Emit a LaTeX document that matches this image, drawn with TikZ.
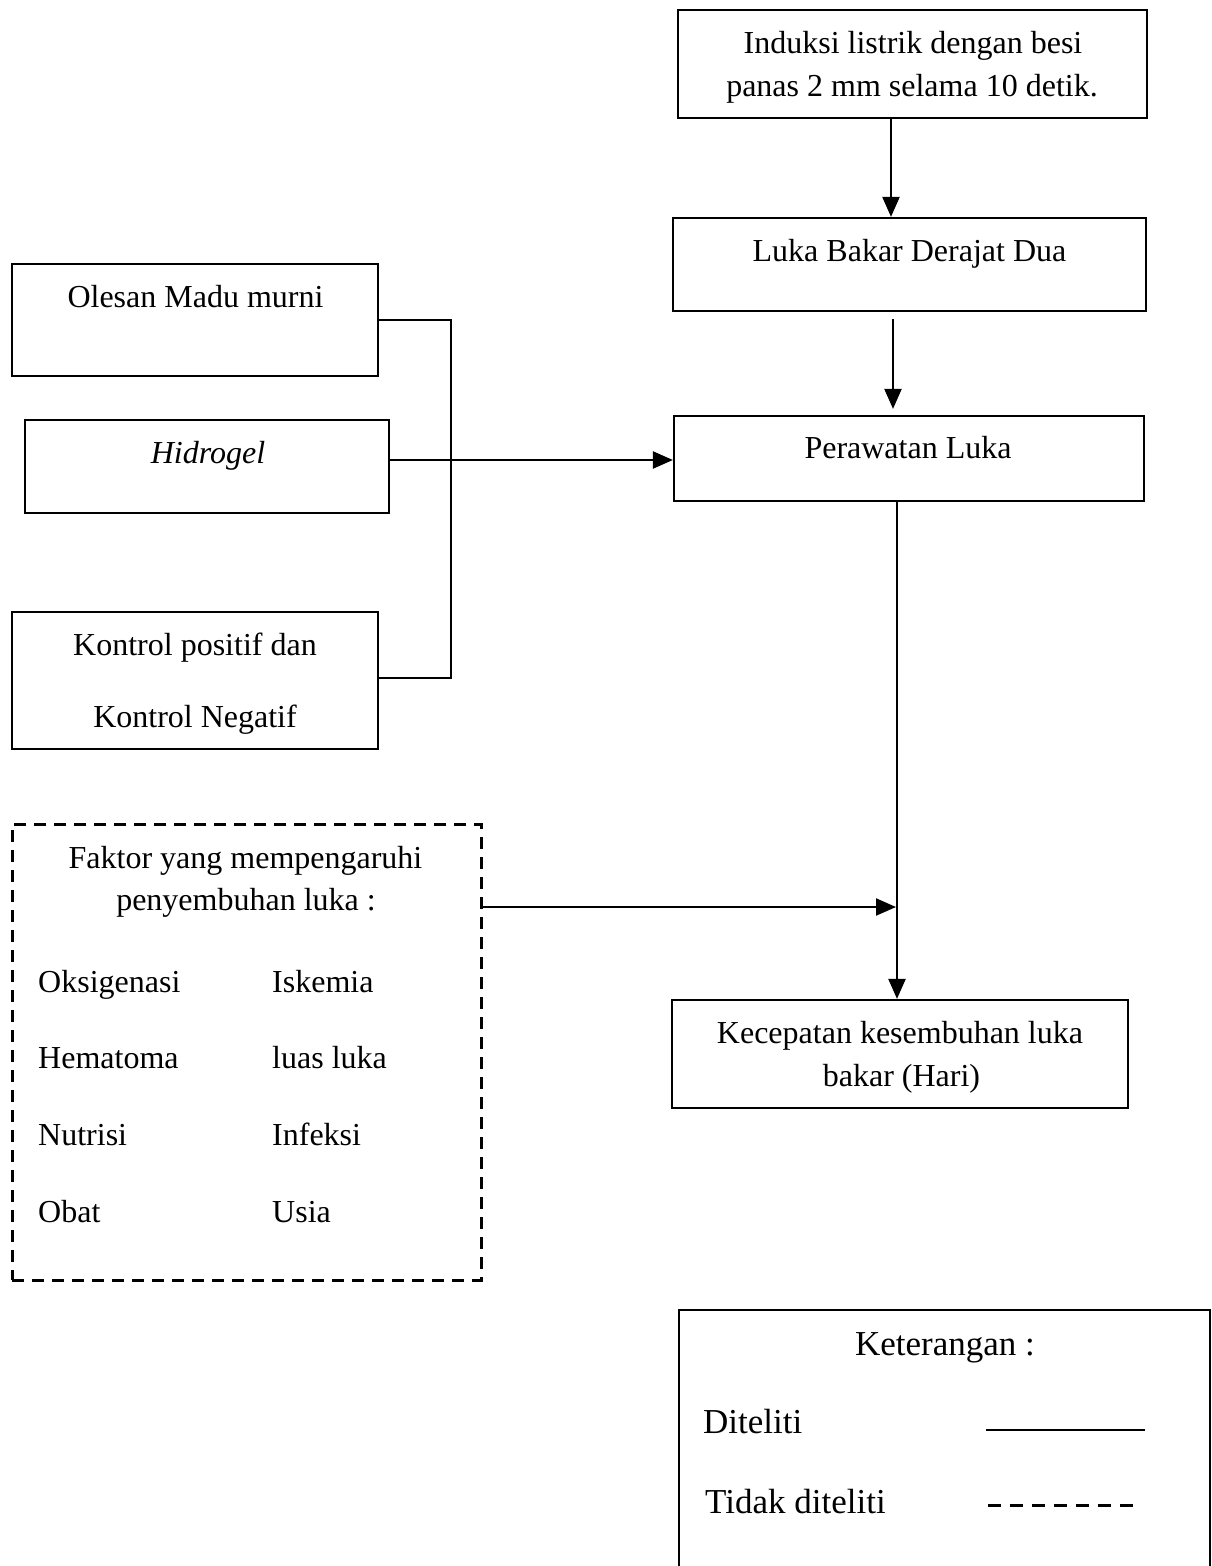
\documentclass[tikz,border=0pt]{standalone}
\usepackage{fontspec}
\setmainfont{Liberation Serif}
\usetikzlibrary{arrows.meta}
\newcommand\fs{\fontsize{32}{40}\selectfont}
\newcommand\fl{\fontsize{35}{42}\selectfont}
\begin{document}
\begin{tikzpicture}[x=1pt,y=-1pt,
  box/.style={draw,line width=2.2pt,inner sep=0pt,minimum width=#1},
  txt/.style={font=\fs,inner sep=0pt,anchor=base},
  txtw/.style={font=\fs,inner sep=0pt,anchor=base west},
  arr/.style={line width=2.2pt,-{Triangle[length=20pt,width=17pt]}},
  ln/.style={line width=2.2pt}]
\useasboundingbox (0,0) rectangle (1212,1566);
% boxes
\node[box=469pt,minimum height=108pt] (ind) at (912.5,64) {};
\node[box=473pt,minimum height=93pt] (luka) at (909.5,264.5) {};
\node[box=470pt,minimum height=85pt] (rawat) at (909,458.5) {};
\node[box=366pt,minimum height=112pt] (olesan) at (195,320) {};
\node[box=364pt,minimum height=93pt] (hidro) at (207,466.5) {};
\node[box=366pt,minimum height=137pt] (kontrol) at (195,680.5) {};
\node[draw,line width=3pt,dash pattern=on 12pt off 8pt,inner sep=0pt,minimum width=469pt,minimum height=456pt] (faktor) at (246.5,1052) {};
\node[box=456pt,minimum height=108pt] (kecep) at (900,1054) {};
% texts
\node[txt] (t1) at (913,53) {Induksi listrik dengan besi};
\node[txt] (t2) at (912,96) {panas 2 mm selama 10 detik.};
\node[txt] (t3) at (909.5,261) {Luka Bakar Derajat Dua};
\node[txt] (t4) at (908,458) {Perawatan Luka};
\node[txt] (t5) at (195.5,307) {Olesan Madu murni};
\node[txt] (t6) at (208,463) {\itshape Hidrogel};
\node[txt] (t7) at (195,655) {Kontrol positif dan};
\node[txt] (t8) at (195,727) {Kontrol Negatif};
\node[txt] (t9) at (245.5,868) {Faktor yang mempengaruhi};
\node[txt] (t10) at (246,910) {penyembuhan luka :};
\node[txtw] (f1) at (38,992) {Oksigenasi};
\node[txtw] (f2) at (272,992) {Iskemia};
\node[txtw] (f3) at (38,1068) {Hematoma};
\node[txtw] (f4) at (272,1068) {luas luka};
\node[txtw] (f5) at (38,1145) {Nutrisi};
\node[txtw] (f6) at (272,1145) {Infeksi};
\node[txtw] (f7) at (38,1222) {Obat};
\node[txtw] (f8) at (272,1222) {Usia};
\node[txt] (t11) at (900,1043) {Kecepatan kesembuhan luka};
\node[txt] (t12) at (901.5,1086) {bakar (Hari)};
% connectors
\coordinate (c1) at (891,0);
\coordinate (c2) at (893,0);
\coordinate (c3) at (897,0);
\coordinate (h) at (0,460);
\coordinate (bx) at (451,0);
\coordinate (by1) at (0,320);
\coordinate (by2) at (0,678);
\coordinate (fy) at (0,907);
\coordinate (fend) at (896,907);
\draw[arr] (ind.south -| c1) -- (luka.north -| c1);
\draw[arr] ([yshift=-7pt]luka.south -| c2) -- ([yshift=6pt]rawat.north -| c2);
\draw[arr] (rawat.south -| c3) -- (kecep.north -| c3);
\draw[arr] (hidro.east |- h) -- (rawat.west |- h);
\draw[ln] (olesan.east |- by1) -- (bx |- by1) -- (bx |- by2) -- (kontrol.east |- by2);
\draw[arr] (faktor.east |- fy) -- (fend);
% legend
\coordinate (l1) at (679,1566);
\coordinate (l2) at (679,1310);
\coordinate (l3) at (1210,1310);
\coordinate (l4) at (1210,1566);
\draw[ln] (l1) -- (l2) -- (l3) -- (l4);
\node[font=\fl,inner sep=0pt,anchor=base] (k0) at (945,1355) {Keterangan :};
\node[font=\fl,inner sep=0pt,anchor=base west] (k1) at (703,1433) {Diteliti};
\node[font=\fl,inner sep=0pt,anchor=base west] (k2) at (705,1513) {Tidak diteliti};
\coordinate (s1) at (986,1430);
\coordinate (s2) at (1145,1430);
\coordinate (d1) at (988,1505);
\coordinate (d2) at (1138,1505);
\draw[ln] (s1) -- (s2);
\draw[line width=3pt,dash pattern=on 13pt off 9pt] (d1) -- (d2);
\end{tikzpicture}
\end{document}
